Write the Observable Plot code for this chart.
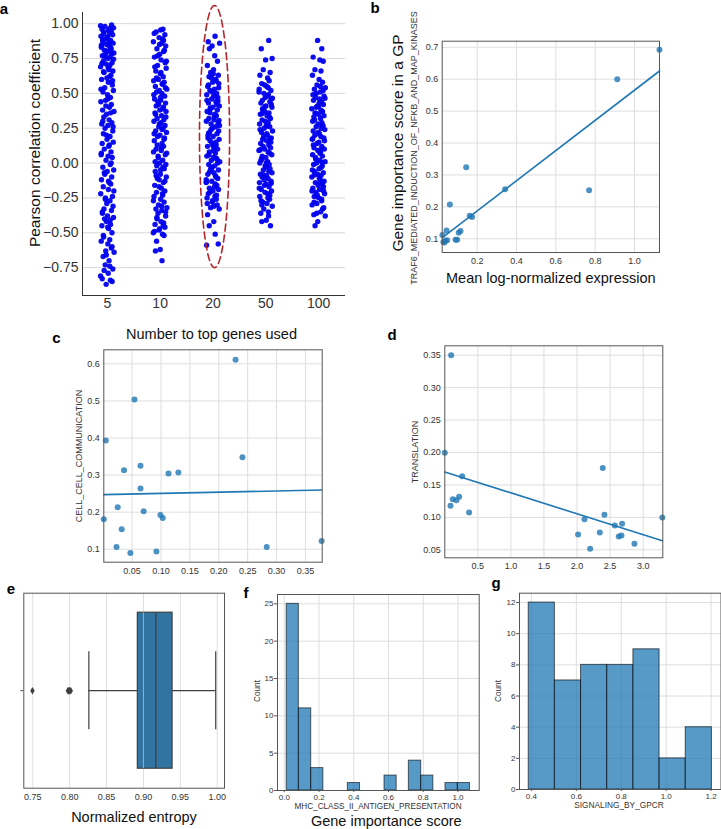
<!DOCTYPE html>
<html><head><meta charset="utf-8">
<script src="https://cdn.jsdelivr.net/npm/d3@7"></script>
<script src="https://cdn.jsdelivr.net/npm/@observablehq/plot@0.6"></script>
<style>
body{margin:0;background:#fff;}
#fig{position:relative;width:721px;height:829px;overflow:hidden;background:#fff;font-family:"Liberation Sans",Arial,Helvetica,sans-serif;color:#111;}
.pn{position:absolute;}
.lbl{position:absolute;white-space:nowrap;transform:translate(-50%,-50%);line-height:1;}
.rot{transform:translate(-50%,-50%) rotate(-90deg);}
.letter{font-weight:bold;font-size:15px;color:#000;}
.small{color:#333;}
</style></head><body><div id="fig"></div>
<script>
// ---------- DATA ----------
// panel a: Pearson correlation per number of top genes
const groupLabels = ["5", "10", "20", "50", "100"];
const g5 = [0.99,0.98,0.97,0.96,0.95,0.94,0.93,0.92,0.91,0.90,0.89,0.88,0.87,0.86,0.85,0.84,0.83,0.82,0.81,0.80,0.79,0.78,0.77,0.76,0.75,0.73,0.72,0.71,0.70,0.69,0.67,0.66,0.65,0.63,0.61,0.60,0.58,0.56,0.54,0.52,0.51,0.49,0.47,0.45,0.44,0.42,0.40,0.38,0.37,0.35,0.33,0.31,0.29,0.28,0.27,0.25,0.23,0.21,0.19,0.17,0.15,0.14,0.12,0.10,0.08,0.06,0.05,0.04,0.02,-0.01,-0.03,-0.05,-0.06,-0.08,-0.10,-0.12,-0.14,-0.15,-0.17,-0.19,-0.22,-0.24,-0.25,-0.27,-0.29,-0.31,-0.33,-0.34,-0.36,-0.38,-0.39,-0.40,-0.42,-0.44,-0.45,-0.47,-0.50,-0.53,-0.55,-0.56,-0.58,-0.61,-0.63,-0.64,-0.67,-0.70,-0.73,-0.76,-0.77,-0.79,-0.83,-0.84,-0.85,-0.87,
  0.985,0.965,0.945,0.925,0.905,0.885,0.865,0.845,0.825,0.805,0.785,0.765,0.745,0.715,0.685,0.655,0.62,0.59,0.53,0.46,0.41,0.36,0.30,0.26,0.20,0.13,0.07,0.0,-0.07,-0.13,-0.2,-0.26,-0.35,-0.41,-0.46,-0.52,-0.6,-0.66,-0.74,-0.81];
const g10 = [0.96,0.955,0.94,0.92,0.90,0.89,0.87,0.86,0.84,0.82,0.80,0.78,0.76,0.74,0.72,0.70,0.68,0.66,0.64,0.62,0.60,0.59,0.58,0.57,0.55,0.53,0.52,0.51,0.50,0.48,0.46,0.45,0.44,0.43,0.41,0.39,0.38,0.37,0.36,0.34,0.32,0.31,0.30,0.29,0.27,0.26,0.25,0.23,0.22,0.20,0.19,0.18,0.16,0.14,0.12,0.10,0.09,0.08,0.06,0.04,0.02,0.00,-0.01,-0.02,-0.04,-0.06,-0.08,-0.10,-0.11,-0.12,-0.14,-0.16,-0.18,-0.20,-0.21,-0.22,-0.24,-0.26,-0.28,-0.30,-0.32,-0.33,-0.34,-0.36,-0.38,-0.40,-0.42,-0.44,-0.45,-0.46,-0.48,-0.50,-0.51,-0.52,-0.56,-0.62,-0.63,-0.70,
  0.93,0.88,0.85,0.81,0.77,0.73,0.69,0.65,0.61,0.565,0.54,0.49,0.47,0.42,0.40,0.35,0.33,0.28,0.24,0.21,0.17,0.13,0.11,0.07,0.05,0.01,-0.03,-0.05,-0.09,-0.13,-0.17,-0.23,-0.27,-0.31,-0.35,-0.39,-0.43,-0.47,-0.49];
const g20 = [0.91,0.87,0.86,0.84,0.82,0.77,0.73,0.70,0.67,0.65,0.63,0.62,0.60,0.58,0.57,0.55,0.53,0.52,0.50,0.49,0.48,0.47,0.46,0.44,0.43,0.41,0.40,0.39,0.38,0.37,0.35,0.34,0.32,0.31,0.30,0.29,0.28,0.26,0.25,0.23,0.22,0.21,0.20,0.19,0.17,0.16,0.14,0.13,0.12,0.11,0.10,0.08,0.07,0.05,0.04,0.03,0.02,0.01,-0.01,-0.02,-0.04,-0.05,-0.06,-0.07,-0.08,-0.10,-0.11,-0.13,-0.14,-0.15,-0.16,-0.18,-0.20,-0.22,-0.24,-0.25,-0.26,-0.28,-0.30,-0.32,-0.33,-0.37,-0.42,-0.45,-0.51,-0.58,-0.59,
  0.64,0.61,0.59,0.56,0.54,0.51,0.48,0.45,0.42,0.36,0.33,0.27,0.24,0.18,0.15,0.09,0.06,0.0,-0.03,-0.09,-0.12,-0.17,-0.19,-0.21,-0.23,-0.27,-0.29,-0.31,0.445,0.395,0.305,0.215,0.125,0.035,-0.045,-0.135];
const g50 = [0.88,0.82,0.75,0.74,0.67,0.65,0.63,0.61,0.59,0.57,0.55,0.53,0.52,0.50,0.49,0.47,0.46,0.45,0.44,0.43,0.41,0.40,0.38,0.37,0.36,0.35,0.34,0.32,0.31,0.29,0.28,0.27,0.26,0.25,0.23,0.22,0.20,0.19,0.18,0.17,0.16,0.14,0.13,0.11,0.10,0.09,0.08,0.07,0.05,0.04,0.02,0.01,0.00,-0.01,-0.02,-0.04,-0.05,-0.07,-0.08,-0.09,-0.10,-0.11,-0.13,-0.14,-0.15,-0.16,-0.17,-0.19,-0.20,-0.21,-0.22,-0.24,-0.26,-0.28,-0.29,-0.31,-0.33,-0.36,-0.38,-0.41,-0.42,-0.45,
  0.56,0.54,0.51,0.48,0.42,0.39,0.33,0.30,0.24,0.21,0.15,0.12,0.06,0.03,-0.03,-0.06,-0.12,-0.18,-0.23,-0.25,-0.27,0.465,0.405,0.355,0.265,0.175,0.095,0.005,-0.085,-0.145,-0.3,-0.35];
const g100 = [0.88,0.82,0.76,0.74,0.73,0.67,0.66,0.63,0.60,0.58,0.56,0.54,0.53,0.51,0.50,0.48,0.47,0.46,0.45,0.44,0.42,0.41,0.39,0.38,0.37,0.36,0.35,0.33,0.32,0.30,0.29,0.28,0.27,0.26,0.24,0.23,0.21,0.20,0.19,0.18,0.17,0.15,0.14,0.12,0.11,0.10,0.09,0.08,0.06,0.05,0.03,0.02,0.01,0.00,-0.01,-0.03,-0.04,-0.06,-0.07,-0.08,-0.09,-0.10,-0.12,-0.13,-0.14,-0.15,-0.16,-0.18,-0.19,-0.20,-0.21,-0.22,-0.24,-0.25,-0.27,-0.29,-0.30,-0.33,-0.35,-0.37,-0.38,-0.42,-0.45,
  0.55,0.52,0.49,0.43,0.40,0.34,0.31,0.25,0.22,0.16,0.13,0.07,0.04,-0.02,-0.05,-0.11,-0.17,-0.23,-0.26,-0.28,0.465,0.405,0.355,0.265,0.175,0.095,0.005,-0.085,-0.145,-0.2,-0.32,-0.36];
const jitter = [0.62,-0.35,0.91,-0.78,0.12,-0.54,0.33,0.77,-0.92,0.05,-0.21,0.48,-0.66,0.84,-0.11,0.29,-0.87,0.56,-0.43,0.18,0.95,-0.29,-0.72,0.41,0.07,-0.58,0.69,-0.15,0.36,-0.98,0.23,0.81,-0.47,0.52,-0.06,-0.83,0.14,0.73,-0.38,0.88,-0.63,0.02,0.45,-0.25,-0.94,0.59,0.31,-0.69,0.97,-0.12,-0.51,0.26,0.66,-0.81,0.09,-0.33,0.79,-0.57,0.39,-0.04,0.86,-0.75,0.21,-0.44,0.54,-0.9,0.11,0.71,-0.19,0.43,-0.65,0.93,-0.02,-0.37,0.64,-0.85,0.27,0.5,-0.59,0.16,-0.96,0.75,-0.27,0.38,-0.08,0.83,-0.49,0.6,-0.71,0.03,0.9,-0.41,-0.14,0.47,-0.79,0.19,0.68,-0.53,0.35,-0.89,0.08,0.58,-0.23,0.99,-0.61,0.25,-0.31,0.8,-0.46,0.13,-0.74,0.44,0.7,-0.17,-0.99,0.34,0.57,-0.52,0.01,-0.68,0.28,-0.86,0.49,-0.09];
const aTicksY = [-0.75, -0.5, -0.25, 0, 0.25, 0.5, 0.75, 1.0];

// panel b: TRAF6_MEDIATED_INDUCTION_OF_NFKB_AND_MAP_KINASES
const bX = [0.023,0.028,0.033,0.038,0.044,0.047,0.061,0.090,0.098,0.106,0.115,0.144,0.162,0.174,0.342,0.769,0.912,1.127];
const bY = [0.112,0.090,0.088,0.094,0.126,0.095,0.207,0.097,0.097,0.119,0.124,0.324,0.172,0.168,0.255,0.252,0.600,0.692];

// panel c: CELL_CELL_COMMUNICATION
const cX = [0.229,0.054,0.0045,0.241,0.0645,0.036,0.113,0.130,0.0645,0.025,0.070,0.099,0.103,0.001,0.032,0.023,0.283,0.047,0.092,0.378];
const cY = [0.611,0.504,0.393,0.348,0.325,0.313,0.304,0.307,0.264,0.213,0.2025,0.192,0.184,0.181,0.154,0.106,0.106,0.090,0.094,0.122];

// panel d: TRANSLATION
const dX = [0.096,0.0,2.389,0.262,0.217,0.121,0.176,0.086,0.368,2.414,2.112,3.29,2.681,2.571,2.344,2.016,2.631,2.671,2.868,2.198];
const dY = [0.350,0.1995,0.176,0.1636,0.132,0.128,0.1266,0.118,0.1076,0.104,0.0973,0.0999,0.090,0.0875,0.0768,0.0737,0.0706,0.0722,0.0593,0.0516];

// panel e: normalized entropy box plot summary
const eQ1 = 0.8924, eMedian = 0.9168, eQ3 = 0.9395, eLow = 0.826, eHigh = 0.998;
const eOutliers = [0.7495, 0.7975, 0.7985, 0.7995, 0.8005, 0.8015];

// panel f: MHC_CLASS_II_ANTIGEN_PRESENTATION histogram
const fEdges = [0.014,0.084,0.155,0.225,0.295,0.366,0.436,0.506,0.577,0.647,0.717,0.788,0.858,0.928,0.999,1.069];
const fCounts = [25,11,3,0,0,1,0,0,2,0,4,2,0,1,1];

// panel g: SIGNALING_BY_GPCR histogram
const gEdges = [0.388,0.5045,0.621,0.7375,0.854,0.9705,1.087,1.2035];
const gCounts = [12,7,8,8,9,2,4];

// ---------- HELPERS ----------
const fig = document.getElementById("fig");
const FONT = '"Liberation Sans",Arial,Helvetica,sans-serif';
function place(node, left, top) {
  node.classList.add("pn");
  node.style.left = left + "px";
  node.style.top = top + "px";
  fig.appendChild(node);
}
function label(text, cx, cy, size, cls = "") {
  const d = document.createElement("div");
  d.className = "lbl " + cls;
  d.textContent = text;
  d.style.left = cx + "px";
  d.style.top = cy + "px";
  d.style.fontSize = size + "px";
  fig.appendChild(d);
}
const style = (fs) => ({background: "transparent", overflow: "visible", fontFamily: FONT, fontSize: fs + "px", color: "#333"});
const GRID = "#dedede";
const FRAME = "#555";
const TAB = "#1f77b4";

// ---------- PANEL A ----------
const aGroups = [g5, g10, g20, g50, g100];
const aData = aGroups.flatMap((vals, gi) => vals.map((v, i) => ({g: gi, j: jitter[(i + gi * 23) % jitter.length], v})));
const aXDomain = [-0.47, 4.51], aYDomain = [-0.95, 1.08];
const ellCx = 2.03, ellCy = 0.19, ellRx = 0.285, ellRy = 0.94;
const ellipse = d3.range(0, 121).map(k => {
  const t = (k / 120) * 2 * Math.PI;
  return {x: ellCx + ellRx * Math.cos(t), y: ellCy + ellRy * Math.sin(t)};
});
place(Plot.plot({
  width: 360, height: 320, marginLeft: 82, marginRight: 15, marginTop: 12, marginBottom: 25,
  style: style(14),
  x: {domain: aXDomain}, y: {domain: aYDomain},
  marks: [
    Plot.gridY(aTicksY, {stroke: "#d9d9d9", strokeOpacity: 1}),
    Plot.ruleX([aXDomain[0]], {stroke: "#333"}),
    Plot.ruleY([aYDomain[0]], {stroke: "#333"}),
    Plot.axisY(aTicksY, {tickSize: 0, tickPadding: 4, tickFormat: d3.format(".2f"), label: null, fill: "#333"}),
    Plot.axisX([0, 1, 2, 3, 4], {tickSize: 0, tickPadding: 3, tickFormat: i => groupLabels[i], label: null, fill: "#333"}),
    Plot.dot(aData, {x: d => d.g + d.j * 0.13, y: "v", r: 2.7, fill: "#0000ee", fillOpacity: 0.95}),
    Plot.line(ellipse, {x: "x", y: "y", stroke: "#b5262c", strokeWidth: 1.6, strokeDasharray: "7,4"})
  ]
}), 0, 0);

// ---------- scatter + regression panels ----------
function regPanel(xs, ys, opts) {
  const data = xs.map((x, i) => ({x, y: ys[i]}));
  return Plot.plot({
    width: opts.width, height: opts.height,
    marginLeft: opts.ml, marginRight: opts.mr, marginTop: opts.mt, marginBottom: opts.mb,
    style: style(9),
    x: {domain: opts.xd}, y: {domain: opts.yd},
    marks: [
      Plot.gridX(opts.xt, {stroke: GRID, strokeOpacity: 1}),
      Plot.gridY(opts.yt, {stroke: GRID, strokeOpacity: 1}),
      Plot.axisX(opts.xt, {tickSize: 0, tickPadding: 5, tickFormat: d3.format(opts.xf), label: null, fill: "#333"}),
      Plot.axisY(opts.yt, {tickSize: 0, tickPadding: 4, tickFormat: d3.format(opts.yf), label: null, fill: "#333"}),
      Plot.dot(data, {x: "x", y: "y", r: 3, fill: TAB, fillOpacity: 0.8}),
      Plot.linearRegressionY(data, {x: "x", y: "y", ci: 0, stroke: TAB, strokeWidth: 1.6}),
      Plot.frame({stroke: FRAME})
    ]
  });
}
place(regPanel(bX, bY, {width: 250, height: 250, ml: 21.7, mr: 11, mt: 20.7, mb: 18,
  xd: [0.022, 1.127], yd: [0.057, 0.719], xt: [0.2, 0.4, 0.6, 0.8, 1.0], yt: [0.1, 0.2, 0.3, 0.4, 0.5, 0.6, 0.7], xf: ".1f", yf: ".1f"}), 420, 20);
place(regPanel(cX, cY, {width: 250, height: 240, ml: 23.3, mr: 8.3, mt: 9.3, mb: 18.3,
  xd: [0.001, 0.379], yd: [0.065, 0.638], xt: [0.05, 0.1, 0.15, 0.2, 0.25, 0.3, 0.35], yt: [0.1, 0.2, 0.3, 0.4, 0.5, 0.6], xf: ".2f", yf: ".1f"}), 80, 340);
place(regPanel(dX, dY, {width: 250, height: 240, ml: 24.3, mr: 7.7, mt: 10.3, mb: 17.7,
  xd: [0.0, 3.297], yd: [0.0377, 0.3645], xt: [0.5, 1.0, 1.5, 2.0, 2.5, 3.0], yt: [0.05, 0.1, 0.15, 0.2, 0.25, 0.3, 0.35], xf: ".1f", yf: ".2f"}), 420, 335);

// ---------- PANEL E (box plot) ----------
const eTicks = [0.75, 0.8, 0.85, 0.9, 0.95, 1.0];
place(Plot.plot({
  width: 220, height: 220, marginLeft: 13.3, marginRight: 6, marginTop: 7.7, marginBottom: 17.3,
  style: style(9),
  x: {domain: [0.7378, 1.0099]}, y: {domain: [-0.5, 0.5]},
  marks: [
    Plot.gridX(eTicks, {stroke: GRID, strokeOpacity: 1}),
    Plot.axisX(eTicks, {tickSize: 0, tickPadding: 5, tickFormat: d3.format(".2f"), label: null, fill: "#333"}),
    Plot.axisY([0], {tickSize: 3, tickPadding: 1, tickFormat: () => "", label: null, stroke: "#555"}),
    Plot.ruleY([0], {x1: eLow, x2: eQ1, stroke: "#3f3f3f", strokeWidth: 1.2}),
    Plot.ruleY([0], {x1: eQ3, x2: eHigh, stroke: "#3f3f3f", strokeWidth: 1.2}),
    Plot.ruleX([eLow, eHigh], {y1: -0.2, y2: 0.2, stroke: "#3f3f3f", strokeWidth: 1.2}),
    Plot.rect([{q1: eQ1, q3: eQ3}], {x1: "q1", x2: "q3", y1: -0.4, y2: 0.4, fill: "#3274a1", stroke: "#3f3f3f", strokeWidth: 1.2}),
    Plot.gridX(eTicks.filter(t => t > eQ1 && t < eQ3), {y1: -0.4, y2: 0.4, stroke: "#ffffff", strokeOpacity: 0.45}),
    Plot.ruleX([eMedian], {y1: -0.4, y2: 0.4, stroke: "#3f3f3f", strokeWidth: 1.3}),
    Plot.dot(eOutliers, {x: d => d, y: 0, symbol: "diamond", r: 2.3, fill: "#3f3f3f"}),
    Plot.frame({stroke: FRAME})
  ]
}), 10, 585);

// ---------- histograms ----------
function histPanel(edges, counts, opts) {
  const bins = counts.map((c, i) => ({x1: edges[i], x2: edges[i + 1], c})).filter(d => d.c > 0);
  return Plot.plot({
    width: opts.width, height: opts.height,
    marginLeft: opts.ml, marginRight: opts.mr, marginTop: opts.mt, marginBottom: opts.mb,
    style: style(8),
    x: {domain: opts.xd}, y: {domain: opts.yd},
    marks: [
      Plot.gridX(opts.xt, {stroke: GRID, strokeOpacity: 1}),
      Plot.gridY(opts.yt, {stroke: GRID, strokeOpacity: 1}),
      Plot.axisX(opts.xt, {tickSize: 2, tickPadding: 2, tickFormat: d3.format(".1f"), label: null, fill: "#333", stroke: "#555"}),
      Plot.axisY(opts.yt, {tickSize: 3, tickPadding: 1, tickFormat: d3.format("d"), label: null, fill: "#333", stroke: "#555"}),
      Plot.rectY(bins, {x1: "x1", x2: "x2", y: "c", fill: TAB, fillOpacity: 0.75, stroke: "#000", strokeOpacity: 0.6, strokeWidth: 1}),
      Plot.frame({stroke: FRAME})
    ]
  });
}
place(histPanel(fEdges, fCounts, {width: 230, height: 220, ml: 22, mr: 6.3, mt: 9, mb: 15,
  xd: [-0.039, 1.122], yd: [0, 26.25], xt: [0, 0.2, 0.4, 0.6, 0.8, 1.0], yt: [0, 5, 10, 15, 20, 25]}), 255, 585);
place(histPanel(gEdges, gCounts, {width: 224, height: 220, ml: 22, mr: 0.5, mt: 7.7, mb: 16,
  xd: [0.347, 1.244], yd: [0, 12.6], xt: [0.4, 0.6, 0.8, 1.0, 1.2], yt: [0, 2, 4, 6, 8, 10, 12]}), 497, 585);

// ---------- TEXT LABELS ----------
label("a", 4, 8, 15, "letter");
label("b", 375, 7, 15, "letter");
label("c", 56.5, 336.5, 15, "letter");
label("d", 392, 334, 15, "letter");
label("e", 11, 587.5, 15, "letter");
label("f", 246, 592, 15, "letter");
label("g", 496, 582, 15, "letter");

label("Pearson correlation coefficient", 35, 143, 15.5, "rot");
label("Number to top genes used", 211.5, 333.5, 14.5);
label("Gene importance score in a GP", 398, 142.5, 15.5, "rot");
label("TRAF6_MEDIATED_INDUCTION_OF_NFKB_AND_MAP_KINASES", 414, 148, 9, "rot small");
label("Mean log-normalized expression", 550.8, 278, 14.5);
label("CELL_CELL_COMMUNICATION", 79.3, 456.3, 9, "rot small");
label("TRANSLATION", 415, 451.7, 9, "rot small");
label("Normalized entropy", 134, 816.7, 14.5);
label("Count", 258.3, 690.7, 8.2, "rot small");
label("MHC_CLASS_II_ANTIGEN_PRESENTATION", 378, 807.3, 8.2, "small");
label("Gene importance score", 386.3, 820.7, 14.5);
label("Count", 499.3, 690.7, 8.2, "rot small");
label("SIGNALING_BY_GPCR", 619, 805, 8.3, "small");
</script></body></html>
